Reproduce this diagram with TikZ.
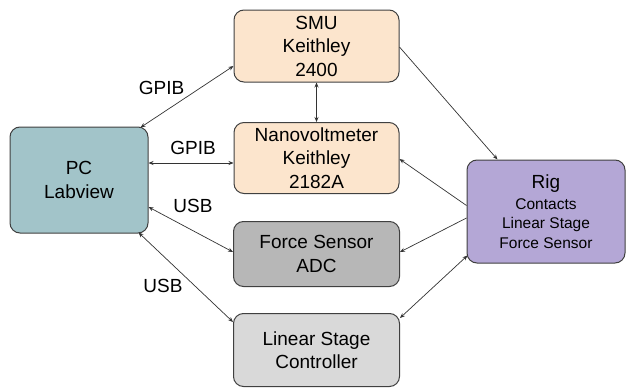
\documentclass[tikz,border=0pt]{standalone}
\usepackage{fontspec}
\setmainfont{Liberation Sans}
\usetikzlibrary{arrows.meta,calc}
\definecolor{peach}{HTML}{FCE5CD}
\definecolor{teal2}{HTML}{A2C4C9}
\definecolor{gray1}{HTML}{B7B7B7}
\definecolor{gray2}{HTML}{D9D9D9}
\definecolor{purp}{HTML}{B4A7D6}
\definecolor{edge}{HTML}{404040}
\tikzset{
  box/.style={draw=edge, line width=1pt, rounded corners=10pt, align=center, inner sep=0pt,
    font=\fontsize{19}{23.5}\selectfont},
  conn/.style={draw=black!80, line width=0.7pt, -{Stealth[length=5pt,width=4pt]}},
  bi/.style={draw=black!80, line width=0.7pt, {Stealth[length=5pt,width=4pt]}-{Stealth[length=5pt,width=4pt]}},
  lab/.style={font=\fontsize{19}{22}\selectfont, inner sep=0pt}
}
\begin{document}
\begin{tikzpicture}[x=1pt,y=-1pt]
\useasboundingbox (0,0) rectangle (627,388);
\node[box, fill=peach, minimum width=165pt, minimum height=72pt] (smu) at (316.5,46) {SMU\\Keithley\\2400};
\node[box, fill=peach, minimum width=165pt, minimum height=71pt] (nano) at (316.5,158) {Nanovoltmeter\\Keithley\\2182A};
\node[box, fill=gray1, minimum width=166pt, minimum height=65pt] (fs) at (316.5,254) {Force Sensor\\ADC};
\node[box, fill=gray2, minimum width=166pt, minimum height=73pt] (lsc) at (316.5,350) {Linear Stage\\Controller};
\node[box, fill=teal2, minimum width=138pt, minimum height=106pt] (pc) at (79,180) {PC\\Labview};
\node[box, fill=purp, minimum width=158pt, minimum height=103pt, font=\fontsize{15.5}{19.5}\selectfont] (rig) at (546,211.5) {{\fontsize{19}{20}\selectfont Rig}\\[1pt]Contacts\\Linear Stage\\Force Sensor};

\coordinate (pc1) at ($(pc.north east)+(-8,1)$);
\coordinate (pc2) at ($(pc.east)+(0,-17)$);
\coordinate (pc3) at ($(pc.east)+(0,27)$);
\coordinate (pc4) at ($(pc.south east)+(-10,-1)$);
\coordinate (smuL) at ($(smu.west)+(0,20)$);
\coordinate (smuR) at ($(smu.east)+(0,1)$);
\coordinate (nanoL) at ($(nano.west)+(0,5)$);
\coordinate (nanoR) at ($(nano.east)+(0,1)$);
\coordinate (fsL) at ($(fs.west)+(0,-2)$);
\coordinate (fsR) at ($(fs.east)+(0,-2)$);
\coordinate (lscL) at ($(lsc.west)+(0,-28)$);
\coordinate (lscR) at ($(lsc.east)+(0,-32)$);
\coordinate (rigT) at ($(rig.north west)+(31,0)$);
\coordinate (rig1) at ($(rig.west)+(0,-6)$);
\coordinate (rig2) at ($(rig.west)+(0,6.5)$);
\coordinate (rig3) at ($(rig.south west)+(1,-8)$);

\draw[bi] (pc1) -- (smuL);
\draw[bi] (smu.south) -- (nano.north);
\draw[bi] (pc2) -- (nanoL);
\draw[bi] (pc3) -- (fsL);
\draw[bi] (pc4) -- (lscL);
\draw[conn] (smuR) -- (rigT);
\draw[conn] (rig1) -- (nanoR);
\draw[conn] (rig2) -- (fsR);
\draw[bi] (rig3) -- (lscR);

\node[lab] (g1) at (161.5,87.5) {GPIB};
\node[lab] (g2) at (193,147.5) {GPIB};
\node[lab] (u1) at (193,205.5) {USB};
\node[lab] (u2) at (163,285.5) {USB};
\end{tikzpicture}
\end{document}
